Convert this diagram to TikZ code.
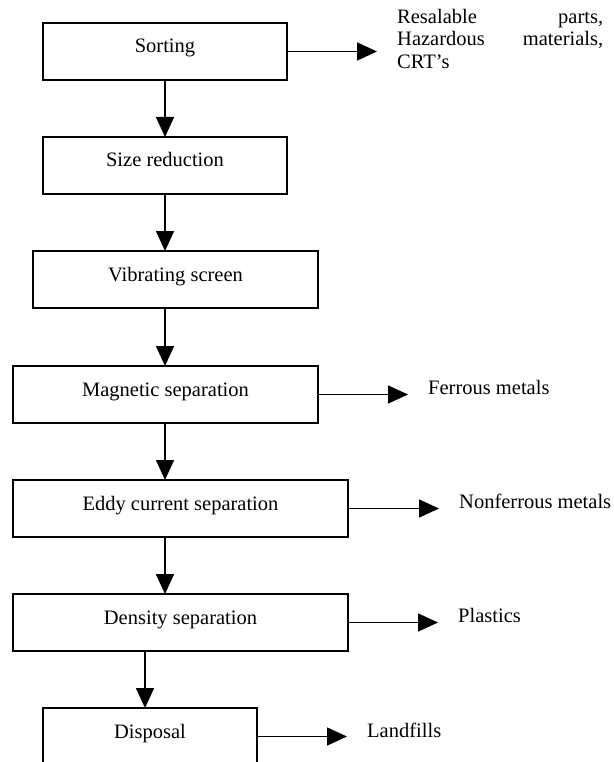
\documentclass[tikz,border=0pt]{standalone}
\usepackage{fontspec}
\setmainfont{Liberation Serif}
\usetikzlibrary{arrows.meta}
\begin{document}
\begin{tikzpicture}[x=1pt,y=-1pt,
  txt/.style={font=\fontsize{20.5}{22.5}\selectfont},
  stage/.style={txt, draw, line width=1.6pt, minimum height=57pt, inner sep=0pt,
    outer sep=0pt, text height=3pt, text depth=0pt},
  flow/.style={line width=1.6pt, -{Triangle[length=20pt,width=18pt]}},
  output/.style={txt, anchor=base west, inner sep=0pt}]
\useasboundingbox (0,0) rectangle (613,762);

% process stages
\node[stage, minimum width=244pt] (sort) at (165,51.5)  {Sorting};
\node[stage, minimum width=244pt] (size) at (165,165.5) {Size reduction};
\node[stage, minimum width=285pt] (vib)  at (175.5,279.5) {Vibrating screen};
\node[stage, minimum width=305pt] (mag)  at (165.5,394.5) {Magnetic separation};
\node[stage, minimum width=335pt] (eddy) at (180.5,508.5) {Eddy current separation};
\node[stage, minimum width=335pt] (dens) at (180.5,622.5) {Density separation};
\node[stage, minimum width=214pt] (disp) at (150,736.5) {Disposal};

% recovered fractions (justified block, words spread to full width)
\node[txt, anchor=north west, inner sep=0pt, text width=206pt, align=left] (res) at (397,9)
  {Resalable\hfill parts,\\ Hazardous\hfill materials,\\ CRT’s};
\node[output] (fer)  at (428,394.5) {Ferrous metals};
\node[output] (nonf) at (459,508.5) {Nonferrous metals};
\node[output] (plas) at (458,622.5) {Plastics};
\node[output] (land) at (367,737)   {Landfills};

% main flow
\draw[flow] (sort.south) -- (size.north);
\draw[flow] (size.south) -- (size.south |- vib.north);
\draw[flow] (vib.south -| size.south) -- (size.south |- mag.north);
\draw[flow] (mag.south -| size.south) -- (size.south |- eddy.north);
\draw[flow] (eddy.south -| size.south) -- (size.south |- dens.north);
\draw[flow] ([xshift=-5pt]disp.north |- dens.south) -- ([xshift=-5pt]disp.north);

% side outputs
\draw[flow] (sort.east) -- ([xshift=-20pt]res.west |- sort.east);
\draw[flow] (mag.east)  -- ([xshift=-20pt]fer.west |- mag.east);
\draw[flow] (eddy.east) -- ([xshift=-20pt]nonf.west |- eddy.east);
\draw[flow] (dens.east) -- ([xshift=-20pt]plas.west |- dens.east);
\draw[flow] (disp.east) -- ([xshift=-20pt]land.west |- disp.east);
\end{tikzpicture}
\end{document}
